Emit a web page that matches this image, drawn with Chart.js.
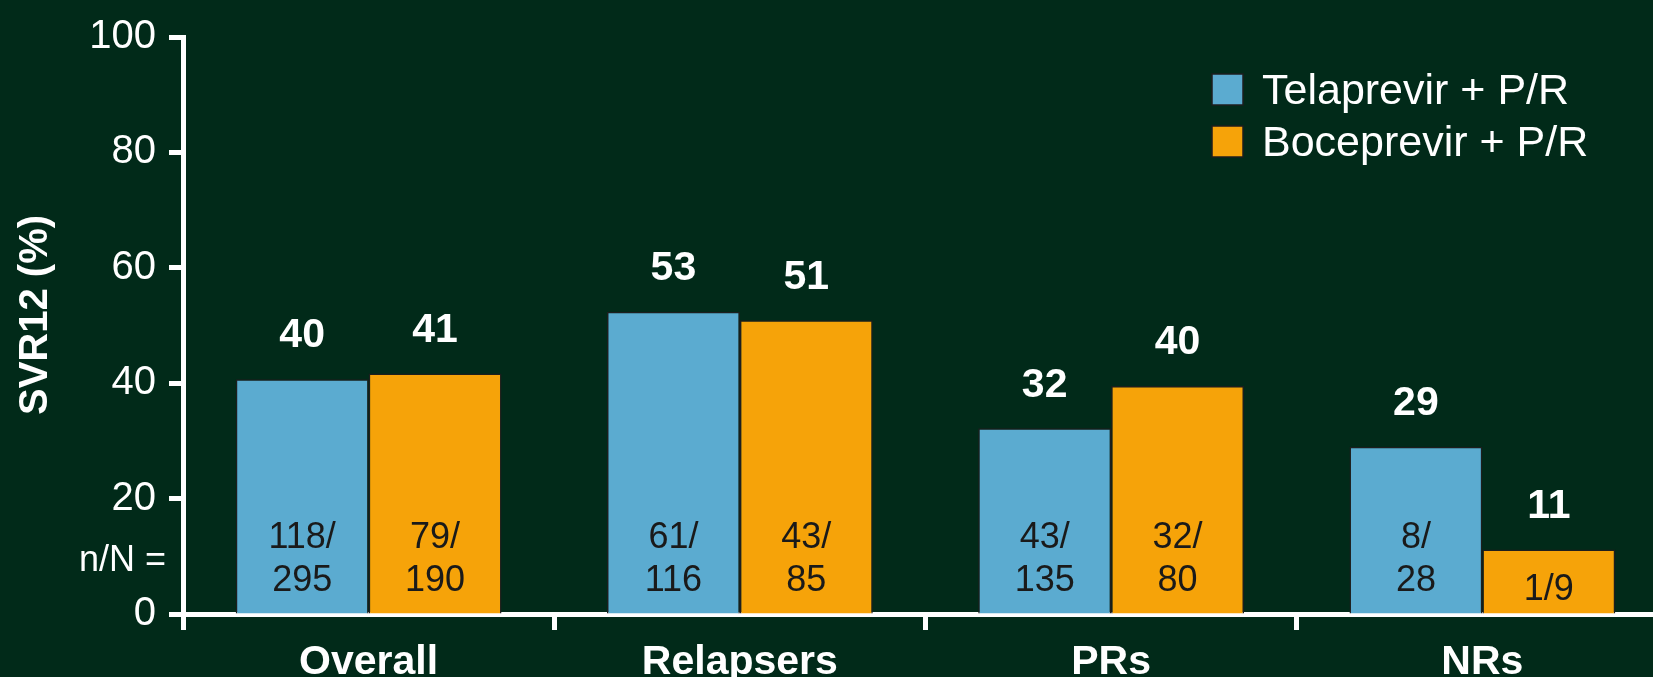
<!DOCTYPE html>
<html>
<head>
<meta charset="utf-8">
<script src="https://cdn.jsdelivr.net/npm/chart.js@4.4.0/dist/chart.umd.min.js"></script>
<style>
    html, body { margin: 0; padding: 0; background: #012a19; overflow: hidden; }
    canvas { display: block; }
</style>
</head>
<body>
<!-- canvas runs a little past the window: the last category is cut off on the slide too -->
<canvas id="svrChart" width="1668" height="677"></canvas>
<script>
// chart values
const categories = ['Overall', 'Relapsers', 'PRs', 'NRs'];
const seriesNames = ['Telaprevir + P/R', 'Boceprevir + P/R'];
const telaprevirSvr = [40.7, 52.4, 32.2, 29.0];
const boceprevirSvr = [41.7, 50.9, 39.5, 11.2];
const telaprevirLabels = ['40', '53', '32', '29'];
const boceprevirLabels = ['41', '51', '40', '11'];
const telaprevirN = [118, 61, 43, 8];
const telaprevirTotal = [295, 116, 135, 28];
const boceprevirN = [79, 43, 32, 1];
const boceprevirTotal = [190, 85, 80, 9];
const yTicks = [0, 20, 40, 60, 80, 100];

const FONT = '"Liberation Sans", Arial, sans-serif';
const BLUE = '#5babd0';
const ORANGE = '#f6a309';

document.addEventListener("DOMContentLoaded", function(event) {
    createChart();
});

// value labels, n/N text, legend and axis title
const annotations = {
    id: 'annotations',
    afterDatasetsDraw(chart) {
        const ctx = chart.ctx;
        const yScale = chart.scales.y;
        ctx.save();
        ctx.textAlign = 'center';
        ctx.textBaseline = 'middle';

        chart.data.datasets.forEach((ds, i) => {
            const meta = chart.getDatasetMeta(i);
            meta.data.forEach((bar, j) => {
                ctx.fillStyle = '#ffffff';
                ctx.font = 'bold 41px ' + FONT;
                ctx.fillText(ds.valueLabels[j], bar.x, bar.y - 43);

                ctx.fillStyle = '#1a1a1a';
                ctx.font = '36px ' + FONT;
                if (ds.data[j] < 20) {
                    ctx.fillText(ds.nValues[j] + '/' + ds.totals[j], bar.x, yScale.getPixelForValue(4.2));
                } else {
                    ctx.fillText(ds.nValues[j] + '/', bar.x, yScale.getPixelForValue(13.2));
                    ctx.fillText(String(ds.totals[j]), bar.x, yScale.getPixelForValue(5.7));
                }
            });
        });

        // n/N = label left of the axis
        ctx.fillStyle = '#ffffff';
        ctx.font = '36px ' + FONT;
        ctx.textAlign = 'right';
        ctx.fillText('n/N =', chart.chartArea.left - 17, yScale.getPixelForValue(9.1));

        // y title
        ctx.save();
        ctx.translate(36, 315);
        ctx.rotate(-Math.PI / 2);
        ctx.textAlign = 'center';
        ctx.font = 'bold 40px ' + FONT;
        ctx.fillText('SVR12 (%)', 0, 0);
        ctx.restore();

        // legend
        ctx.textAlign = 'left';
        ctx.font = '43px ' + FONT;
        chart.data.datasets.forEach((ds, i) => {
            const top = 74 + i * 52;
            ctx.fillStyle = ds.backgroundColor;
            ctx.fillRect(1212, top, 31, 31);
            ctx.strokeStyle = '#1e1e1e';
            ctx.lineWidth = 1.5;
            ctx.strokeRect(1212, top, 31, 31);
            ctx.fillStyle = '#ffffff';
            ctx.fillText(ds.label, 1262, top + 18);
        });
        ctx.restore();
    }
};

function createChart() {
    const ctx = document.getElementById('svrChart').getContext('2d');
    new Chart(ctx, {
        type: 'bar',
        data: {
            labels: categories,
            datasets: [{
                label: seriesNames[0],
                data: telaprevirSvr,
                valueLabels: telaprevirLabels,
                nValues: telaprevirN,
                totals: telaprevirTotal,
                backgroundColor: BLUE,
                borderColor: '#1e1e1e',
                borderWidth: 1.5
            }, {
                label: seriesNames[1],
                data: boceprevirSvr,
                valueLabels: boceprevirLabels,
                nValues: boceprevirN,
                totals: boceprevirTotal,
                backgroundColor: ORANGE,
                borderColor: '#1e1e1e',
                borderWidth: 1.5
            }]
        },
        options: {
            responsive: false,
            animation: false,
            barPercentage: 1,
            categoryPercentage: 0.716,
            layout: {
                padding: { top: 32, right: 0, left: 0, bottom: 0 }
            },
            plugins: {
                legend: { display: false },
                tooltip: { enabled: false }
            },
            scales: {
                x: {
                    afterFit: function(scale) { scale.height = 63; },
                    grid: {
                        offset: true,
                        drawOnChartArea: false,
                        tickLength: 16,
                        tickWidth: 5,
                        tickColor: '#ffffff'
                    },
                    border: { color: '#ffffff', width: 5 },
                    ticks: {
                        color: '#ffffff',
                        padding: 8,
                        font: { family: FONT, size: 41, weight: 'bold' }
                    }
                },
                y: {
                    min: 0,
                    max: 100,
                    afterFit: function(scale) { scale.width = 183; },
                    afterBuildTicks: function(scale) {
                        scale.ticks = yTicks.map(v => ({ value: v }));
                    },
                    grid: {
                        drawOnChartArea: false,
                        tickLength: 14,
                        tickWidth: 5,
                        tickColor: '#ffffff'
                    },
                    border: { color: '#ffffff', width: 5 },
                    ticks: {
                        color: '#ffffff',
                        padding: 13,
                        font: { family: FONT, size: 40 }
                    }
                }
            }
        },
        plugins: [annotations]
    });
}
</script>
</body>
</html>
